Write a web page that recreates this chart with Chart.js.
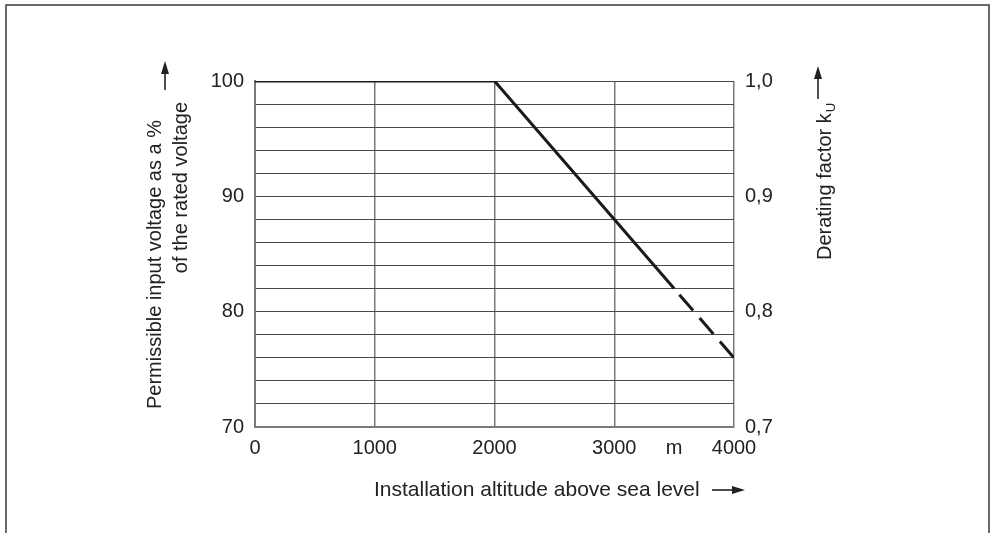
<!DOCTYPE html>
<html><head><meta charset="utf-8">
<script src="https://cdn.jsdelivr.net/npm/chart.js@4/dist/chart.umd.min.js"></script>
<style>html,body{margin:0;padding:0;background:#fff}#wrap{width:991px;height:533px;position:relative}canvas{display:block}</style>
</head><body><div id="wrap"><canvas id="c" width="991" height="533"></canvas></div>
<script>
// ---- data ----
const altitude = [0, 2000, 3500, 4000];          // m
const voltagePercent = [100, 100, 82, 76];       // % of rated voltage
const dashedFromIndex = 2;                       // segment from 3500 m on is dashed
const xTickValues = [0, 1000, 2000, 3000, 3500, 4000];
const xTickLabels = ['0', '1000', '2000', '3000', 'm', '4000'];
const yLeftGridValues = [70, 72, 74, 76, 78, 80, 82, 84, 86, 88, 90, 92, 94, 96, 98, 100];
const yLeftLabeledValues = [70, 80, 90, 100];
const yRightTickValues = [0.7, 0.8, 0.9, 1.0];
const yRightTickLabels = ['0,7', '0,8', '0,9', '1,0'];
const leftTitleLines = ['Permissible input voltage as a %', 'of the rated voltage'];
const rightTitle = 'Derating factor k';
const rightTitleSub = 'U';
const xTitle = 'Installation altitude above sea level';

const FONT = '"Liberation Sans", Arial, Helvetica, sans-serif';
const TXT = '#222';

function arrow(c, x1, y1, x2, y2) {
  const ang = Math.atan2(y2 - y1, x2 - x1), hl = 13, hw = 4;
  const bx = x2 - hl * Math.cos(ang), by = y2 - hl * Math.sin(ang);
  c.beginPath(); c.moveTo(x1, y1); c.lineTo(bx, by); c.stroke();
  c.beginPath(); c.moveTo(x2, y2);
  c.lineTo(bx + hw * Math.sin(ang), by - hw * Math.cos(ang));
  c.lineTo(bx - hw * Math.sin(ang), by + hw * Math.cos(ang));
  c.closePath(); c.fill();
}

const decor = {
  id: 'decor',
  beforeDraw(chart) {
    const c = chart.ctx; c.save(); c.fillStyle = '#fff'; c.fillRect(0, 0, chart.width, chart.height); c.restore();
  },
  afterDraw(chart) {
    const c = chart.ctx; c.save();
    c.strokeStyle = '#3a3a3a'; c.lineWidth = 1.5;
    c.beginPath(); c.moveTo(6, 540); c.lineTo(6, 5); c.lineTo(989, 5); c.lineTo(989, 540); c.stroke();
    c.fillStyle = TXT; c.strokeStyle = TXT; c.lineWidth = 1.6;
    c.font = '20px ' + FONT; c.textBaseline = 'alphabetic';
    // left title
    c.save(); c.translate(161, 120); c.rotate(-Math.PI / 2); c.textAlign = 'right'; c.fillText(leftTitleLines[0], 0, 0); c.restore();
    c.save(); c.translate(187, 102); c.rotate(-Math.PI / 2); c.textAlign = 'right'; c.fillText(leftTitleLines[1], 0, 0); c.restore();
    arrow(c, 165, 90, 165, 61);
    // right title
    c.save(); c.translate(831, 260); c.rotate(-Math.PI / 2); c.textAlign = 'left';
    c.fillText(rightTitle, 0, 0);
    const w = c.measureText(rightTitle).width;
    c.font = '13px ' + FONT; c.fillText(rightTitleSub, w + 1, 4);
    c.restore();
    arrow(c, 818, 99, 818, 66);
    // x title
    c.font = '21px ' + FONT; c.textAlign = 'left'; c.textBaseline = 'middle';
    c.fillText(xTitle, 374, 490);
    arrow(c, 712, 490, 745, 490);
    c.restore();
  }
};

const points = altitude.map((x, i) => ({ x: x, y: voltagePercent[i] }));

new Chart(document.getElementById('c'), {
  type: 'line',
  data: {
    datasets: [{
      data: points,
      borderColor: '#1a1a1a',
      borderWidth: 3,
      pointRadius: 0,
      tension: 0,
      fill: false,
      yAxisID: 'y',
      segment: {
        borderDash: ctx => ctx.p0DataIndex >= dashedFromIndex ? [21, 10] : undefined,
        borderDashOffset: ctx => ctx.p0DataIndex >= dashedFromIndex ? 23 : 0
      }
    }]
  },
  options: {
    responsive: false,
    animation: false,
    devicePixelRatio: 1,
    layout: { padding: { left: 0, right: 0, top: 81, bottom: 0 } },
    plugins: { legend: { display: false }, tooltip: { enabled: false } },
    scales: {
      x: {
        type: 'linear', min: 0, max: 4000,
        afterBuildTicks: s => { s.ticks = xTickValues.map(v => ({ value: v })); },
        afterFit: s => { s.height = 106; },
        ticks: { autoSkip: false, maxRotation: 0, padding: 9, color: TXT, font: { family: FONT, size: 20 },
          callback: (v, i) => xTickLabels[i] },
        grid: { drawTicks: false, lineWidth: 1.5,
          color: ctx => (ctx.tick && ctx.tick.value === 3500) ? 'rgba(0,0,0,0)' : '#7a7a7a' },
        border: { color: '#7a7a7a', width: 2 }
      },
      y: {
        position: 'left', min: 70, max: 100,
        afterBuildTicks: s => { s.ticks = yLeftGridValues.map(v => ({ value: v })); },
        afterFit: s => { s.width = 255; },
        ticks: { autoSkip: false, padding: 11, color: TXT, font: { family: FONT, size: 20 },
          callback: v => yLeftLabeledValues.includes(v) ? String(v) : '' },
        grid: { drawTicks: false, lineWidth: 1, color: '#4a4a4a' },
        border: { color: '#7a7a7a', width: 2 }
      },
      y2: {
        position: 'right', min: 0.7, max: 1.0,
        afterBuildTicks: s => { s.ticks = yRightTickValues.map(v => ({ value: v })); },
        afterFit: s => { s.width = 257; },
        ticks: { autoSkip: false, padding: 11, color: TXT, font: { family: FONT, size: 20 },
          callback: (v, i) => yRightTickLabels[i] },
        grid: { display: false, drawTicks: false },
        border: { display: false }
      }
    }
  },
  plugins: [decor]
});
</script>
</body></html>
